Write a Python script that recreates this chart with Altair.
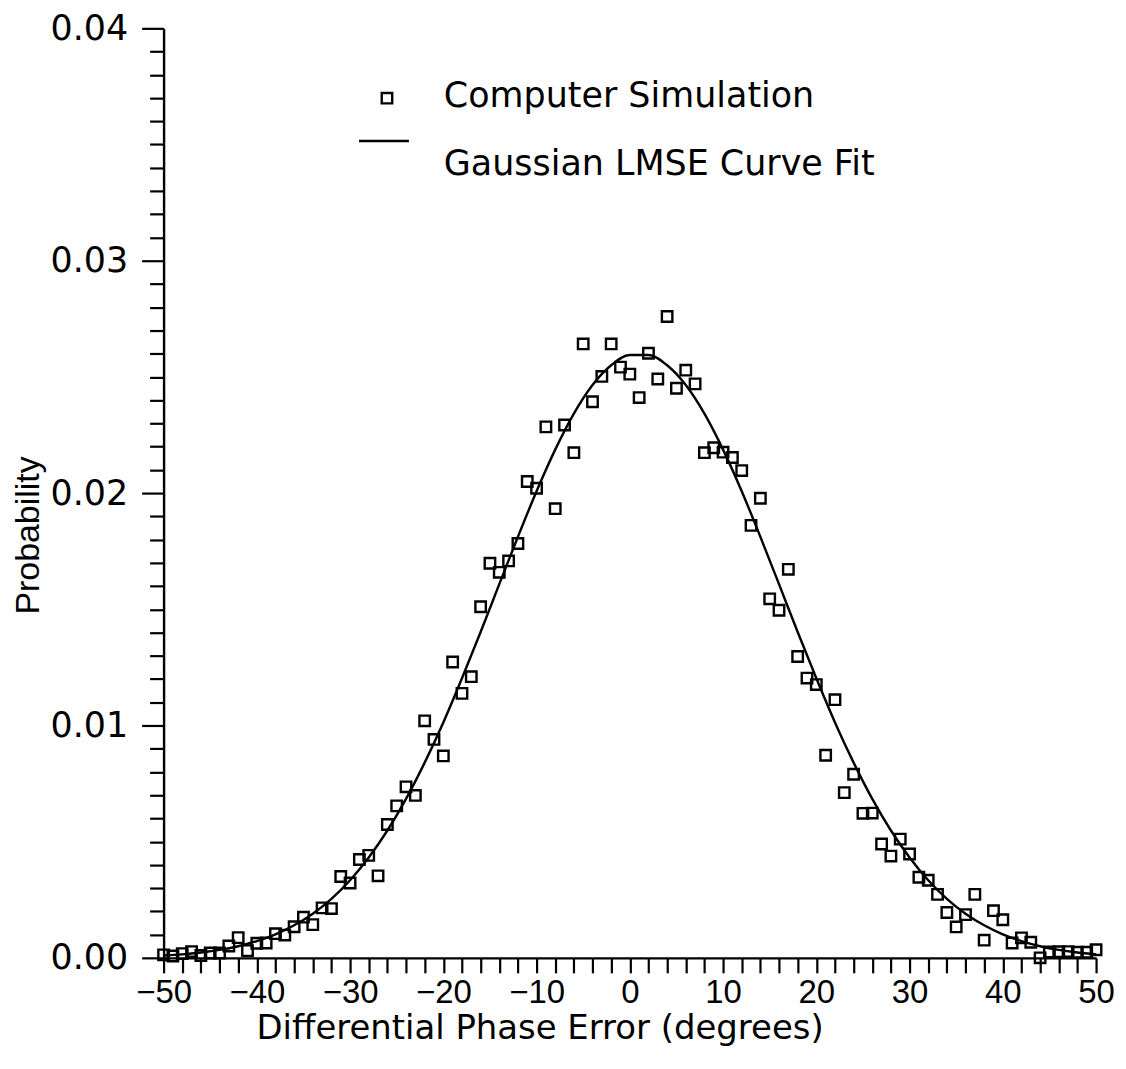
import altair as alt
import pandas as pd

# ---- data ----
phase_deg = list(range(-50, 51))
sim_prob = [
    0.00013, 0.00008, 0.00018, 0.00027, 0.00010, 0.00021, 0.00021, 0.00051, 0.00087, 0.00031,
    0.00063, 0.00064, 0.00104, 0.00098, 0.00134, 0.00175, 0.00143, 0.00215, 0.00212, 0.00350,
    0.00322, 0.00423, 0.00441, 0.00353, 0.00574, 0.00654, 0.00736, 0.00699, 0.01020, 0.00940,
    0.00869, 0.01273, 0.01138, 0.01210, 0.01511, 0.01698, 0.01659, 0.01708, 0.01783, 0.02050,
    0.02021, 0.02285, 0.01933, 0.02293, 0.02174, 0.02642, 0.02393, 0.02502, 0.02642, 0.02542,
    0.02512, 0.02411, 0.02602, 0.02491, 0.02760, 0.02451, 0.02529, 0.02470, 0.02174, 0.02195,
    0.02176, 0.02153, 0.02097, 0.01861, 0.01978, 0.01545, 0.01496, 0.01672, 0.01297, 0.01204,
    0.01176, 0.00872, 0.01111, 0.00711, 0.00790, 0.00622, 0.00623, 0.00490, 0.00438, 0.00511,
    0.00447, 0.00347, 0.00334, 0.00273, 0.00195, 0.00133, 0.00186, 0.00273, 0.00076, 0.00203,
    0.00164, 0.00064, 0.00086, 0.00067, 0.00000, 0.00025, 0.00026, 0.00027, 0.00024, 0.00024,
    0.00035,
]

fit_deg = list(range(-50, 51, 2))
fit_prob = [
    0.00010, 0.00015, 0.00023, 0.00034, 0.00050, 0.00072, 0.00101, 0.00140, 0.00190, 0.00254,
    0.00334, 0.00432, 0.00548, 0.00684, 0.00840, 0.01013, 0.01203, 0.01402, 0.01608, 0.01812,
    0.02008, 0.02187, 0.02342, 0.02465, 0.02550, 0.02594, 0.02594, 0.02550, 0.02465, 0.02342,
    0.02187, 0.02008, 0.01812, 0.01608, 0.01402, 0.01203, 0.01013, 0.00840, 0.00684, 0.00548,
    0.00432, 0.00334, 0.00254, 0.00190, 0.00140, 0.00101, 0.00072, 0.00050, 0.00034, 0.00023,
    0.00015,
]

legend_labels = ["Computer Simulation", "Gaussian LMSE Curve Fit"]
x_tick_values = list(range(-50, 51, 2))
y_tick_values = [round(i * 0.001, 3) for i in range(0, 41)]

sim_df = pd.DataFrame({"deg": phase_deg, "prob": sim_prob})
fit_df = pd.DataFrame({"deg": fit_deg, "prob": fit_prob})

x_scale = alt.Scale(domain=[-50, 50], nice=False, zero=False)
y_scale = alt.Scale(domain=[0, 0.04], nice=False)

x_axis = alt.Axis(
    values=x_tick_values,
    format="d",
    labelExpr="datum.value % 10 === 0 ? datum.label : ''",
    labelFont="Liberation Sans",
    labelFontSize=33,
    labelColor="black",
    labelPadding=4,
    labelFlush=False,
    labelOverlap=False,
    labelBound=False,
    tickSize=15,
    tickWidth=2.2,
    tickColor="black",
    domainColor="black",
    domainWidth=2.4,
    grid=False,
    title="Differential Phase Error (degrees)",
    titleFont="DejaVu Sans",
    titleFontSize=34,
    titleFontWeight="normal",
    titleColor="black",
    titleX=377,
    titleY=81,
    titleBaseline="alphabetic",
)

y_axis = alt.Axis(
    values=y_tick_values,
    labelExpr="abs(datum.value*100 - round(datum.value*100)) < 1e-6 ? format(datum.value, '.2f') : ''",
    labelFont="DejaVu Sans",
    labelFontSize=35,
    labelColor="black",
    labelPadding=14,
    labelOverlap=False,
    tickSize={"condition": {"test": "abs(datum.value*100 - round(datum.value*100)) < 1e-6", "value": 22}, "value": 14},
    tickWidth=2.2,
    tickColor="black",
    domainColor="black",
    domainWidth=2.4,
    grid=False,
    title="Probability",
    titleFont="Liberation Sans",
    titleFontSize=34,
    titleFontWeight="normal",
    titleColor="black",
    titleX=-118,
    titleY=508,
)

fit_line = alt.Chart(fit_df).mark_line(
    color="black", strokeWidth=2.4, interpolate="monotone"
).encode(
    x=alt.X("deg:Q", scale=x_scale, axis=x_axis),
    y=alt.Y("prob:Q", scale=y_scale, axis=y_axis),
)

points = alt.Chart(sim_df).mark_point(
    shape="square", filled=False, size=110, color="black", strokeWidth=2.4, opacity=1
).encode(
    x=alt.X("deg:Q", scale=x_scale, axis=x_axis),
    y=alt.Y("prob:Q", scale=y_scale, axis=y_axis),
)

legend_df = pd.DataFrame({"label": [legend_labels[0]]})
legend_df2 = pd.DataFrame({"label": [legend_labels[1]]})

leg_square = alt.Chart(legend_df).mark_point(
    shape="square", filled=False, size=110, color="black", strokeWidth=2.4, opacity=1
).encode(x=alt.value(224), y=alt.value(70))

leg_text1 = alt.Chart(legend_df).mark_text(
    align="left", baseline="middle", font="DejaVu Sans", fontSize=35, color="black"
).encode(x=alt.value(281), y=alt.value(68), text="label:N")

leg_rule = alt.Chart(legend_df2).mark_rule(color="black", strokeWidth=2.4).encode(
    x=alt.value(196), x2=alt.value(246), y=alt.value(113)
)

leg_text2 = alt.Chart(legend_df2).mark_text(
    align="left", baseline="middle", font="DejaVu Sans", fontSize=35, color="black"
).encode(x=alt.value(281), y=alt.value(136), text="label:N")

chart = alt.layer(fit_line, points, leg_square, leg_text1, leg_rule, leg_text2).properties(
    width=935,
    height=932,
    padding={"left": 156, "top": 19, "right": 22, "bottom": 90},
    autosize=alt.AutoSizeParams(type="none"),
    background="white",
).configure_view(stroke=None)

chart.save("out.html", embed_options={"renderer": "svg", "actions": False})
